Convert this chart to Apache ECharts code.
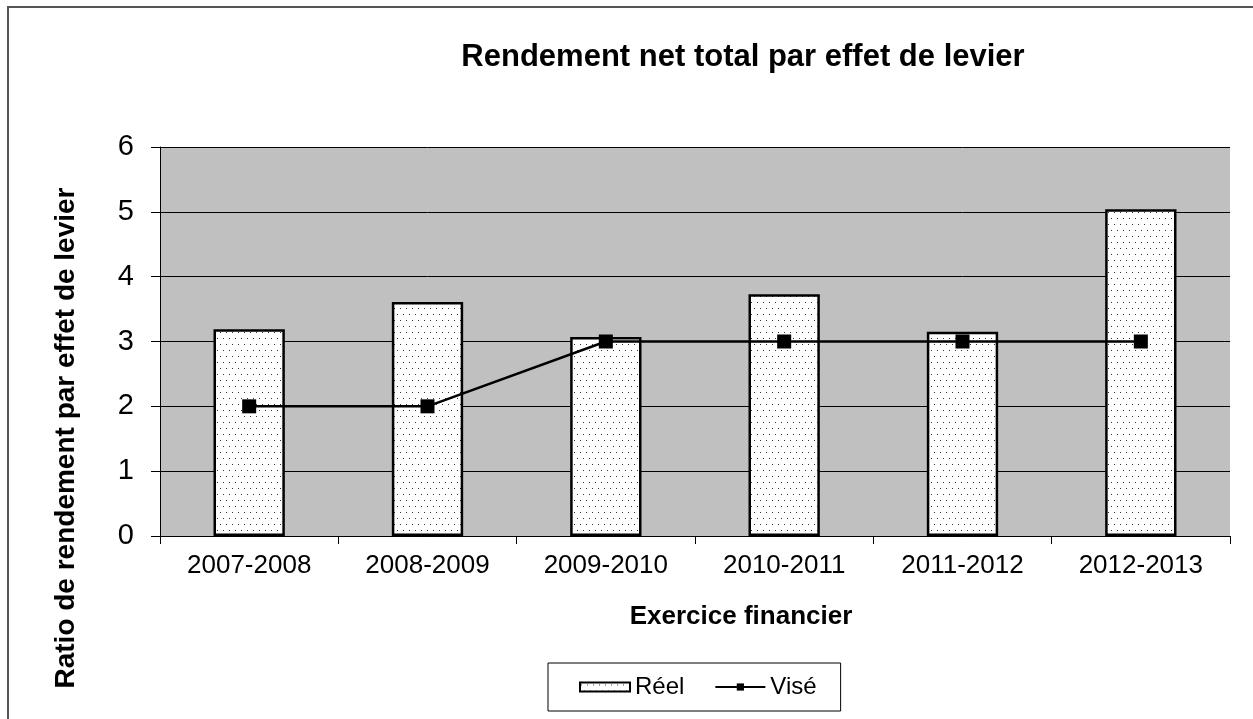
<!DOCTYPE html>
<html>
<head>
<meta charset="utf-8">
<script src="https://cdn.jsdelivr.net/npm/echarts@6/dist/echarts.min.js"></script>
<style>
  html, body { margin: 0; padding: 0; background: #fff; }
  #chart { width: 1253px; height: 719px; }
</style>
</head>
<body>
<div id="chart"></div>
<script>
// données
var exercices = ['2007-2008', '2008-2009', '2009-2010', '2010-2011', '2011-2012', '2012-2013'];
var reel = [3.19, 3.61, 3.07, 3.73, 3.15, 5.04];
var vise = [2, 2, 3, 3, 3, 3];
var yTicks = [0, 1, 2, 3, 4, 5, 6];

var fontName = 'Liberation Sans, Arial, sans-serif';

// motif pointillé pour les barres
function dotPattern() {
    var c = document.createElement('canvas');
    c.width = 12;
    c.height = 12;
    var ctx = c.getContext('2d');
    ctx.fillStyle = '#ffffff';
    ctx.fillRect(0, 0, 12, 12);
    ctx.fillStyle = '#333333';
    ctx.fillRect(1, 2, 1, 1);
    ctx.fillRect(7, 2, 1, 1);
    ctx.fillRect(4, 8, 1, 1);
    ctx.fillRect(10, 8, 1, 1);
    return c;
}

var chart = echarts.init(document.getElementById('chart'));
chart.setOption({
    animation: false,
    backgroundColor: '#ffffff',
    grid: {
        left: 160,
        right: 23,
        top: 147,
        bottom: 183,
        show: true,
        backgroundColor: '#c0c0c0',
        borderWidth: 0
    },
    legend: {
        left: 548,
        top: 663,
        padding: [12, 24, 12, 31],
        itemGap: 30,
        itemWidth: 50,
        itemHeight: 9,
        borderColor: '#000',
        borderWidth: 1,
        textStyle: { fontFamily: fontName, fontSize: 24, color: '#000' },
        data: [
            { name: 'Réel', icon: 'rect' },
            { name: 'Visé' }
        ]
    },
    xAxis: {
        type: 'category',
        data: exercices,
        boundaryGap: true,
        axisLine: { show: true, lineStyle: { color: '#000', width: 1 } },
        axisTick: { show: true, length: 8, alignWithLabel: false, lineStyle: { color: '#000' } },
        axisLabel: { margin: 17, fontFamily: fontName, fontSize: 26, color: '#000' },
        splitLine: { show: false }
    },
    yAxis: {
        type: 'value',
        min: yTicks[0],
        max: yTicks[yTicks.length - 1],
        interval: 1,
        axisLine: { show: true, lineStyle: { color: '#000', width: 1 } },
        axisTick: { show: true, length: 9, lineStyle: { color: '#000' } },
        axisLabel: { margin: 26, fontFamily: fontName, fontSize: 29, color: '#000' },
        splitLine: { show: true, lineStyle: { color: '#000', width: 1 } }
    },
    series: [
        {
            name: 'Réel',
            type: 'bar',
            data: reel,
            barWidth: '40%',
            itemStyle: {
                color: { image: dotPattern(), repeat: 'repeat' },
                borderColor: '#000',
                borderWidth: 2.5
            },
            z: 2
        },
        {
            name: 'Visé',
            type: 'line',
            data: vise,
            symbol: 'rect',
            symbolSize: 14,
            lineStyle: { color: '#000', width: 2.5 },
            itemStyle: { color: '#000' },
            z: 3
        }
    ],
    graphic: [
        {
            type: 'rect',
            shape: { x: 8, y: 7, width: 1270, height: 730 },
            style: { fill: 'none', stroke: '#555', lineWidth: 2 },
            silent: true
        },
        {
            type: 'text',
            x: 743,
            y: 57,
            style: {
                text: 'Rendement net total par effet de levier',
                fontFamily: fontName,
                fontSize: 31,
                fontWeight: 'bold',
                fill: '#000',
                align: 'center',
                verticalAlign: 'middle'
            }
        },
        {
            type: 'text',
            x: 741,
            y: 617,
            style: {
                text: 'Exercice financier',
                fontFamily: fontName,
                fontSize: 26,
                fontWeight: 'bold',
                fill: '#000',
                align: 'center',
                verticalAlign: 'middle'
            }
        },
        {
            type: 'text',
            x: 66,
            y: 438,
            rotation: Math.PI / 2,
            style: {
                text: 'Ratio de rendement par effet de levier',
                fontFamily: fontName,
                fontSize: 28,
                fontWeight: 'bold',
                fill: '#000',
                align: 'center',
                verticalAlign: 'middle'
            }
        }
    ]
});
</script>
</body>
</html>
